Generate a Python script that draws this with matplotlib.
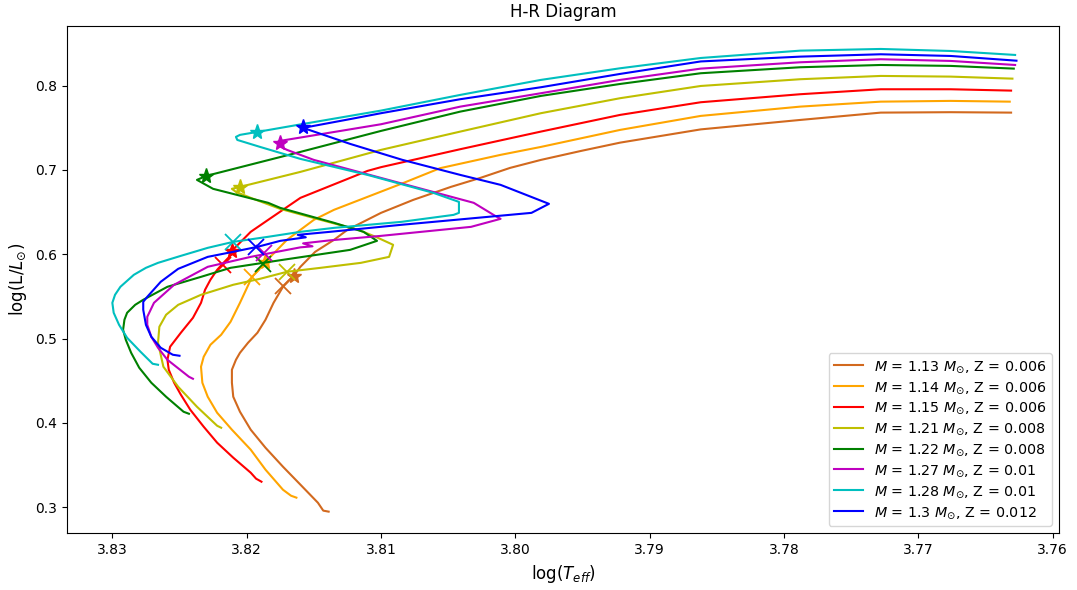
import matplotlib
matplotlib.use("Agg")
import matplotlib.pyplot as plt

# ---- data (log Teff, log L/Lsun) ----
masses = ["1.13", "1.14", "1.15", "1.21", "1.22", "1.27", "1.28", "1.3"]
metallicities = ["0.006", "0.006", "0.006", "0.008", "0.008", "0.01", "0.01", "0.012"]
colors = ["chocolate", "orange", "r", "y", "g", "m", "c", "b"]

teff_113 = [3.8139, 3.8143, 3.8147, 3.8160, 3.8173, 3.8186, 3.8197, 3.8205, 3.8210, 3.8211, 3.8211, 3.8208,
            3.8205, 3.8199, 3.8192, 3.8186, 3.8180, 3.8173, 3.8165, 3.8160, 3.8149, 3.8135, 3.8125, 3.8100,
            3.8076, 3.8048, 3.8026, 3.8004, 3.7981, 3.7951, 3.7922, 3.7862, 3.7788, 3.7728, 3.7676, 3.7631]
lum_113 = [0.2947, 0.2959, 0.3053, 0.3267, 0.3480, 0.3705, 0.3919, 0.4132, 0.4310, 0.4476, 0.4630, 0.4748,
           0.4831, 0.4950, 0.5069, 0.5223, 0.5424, 0.5614, 0.5744, 0.5851, 0.6029, 0.6171, 0.6290, 0.6491,
           0.6645, 0.6799, 0.6906, 0.7024, 0.7119, 0.7226, 0.7324, 0.7481, 0.7593, 0.7680, 0.7685, 0.7680]

teff_114 = [3.8163, 3.8167, 3.8173, 3.8186, 3.8197, 3.8211, 3.8222, 3.8229, 3.8233, 3.8234, 3.8232, 3.8227,
            3.8219, 3.8212, 3.8205, 3.8196, 3.8186, 3.8170, 3.8150, 3.8135, 3.8085, 3.8056, 3.8011, 3.7981,
            3.7922, 3.7862, 3.7788, 3.7728, 3.7676, 3.7632]
lum_114 = [0.3113, 0.3136, 0.3207, 0.3445, 0.3682, 0.3919, 0.4120, 0.4310, 0.4476, 0.4666, 0.4784, 0.4926,
           0.5045, 0.5199, 0.5424, 0.5732, 0.5910, 0.6171, 0.6408, 0.6527, 0.6835, 0.7021, 0.7179, 0.7273,
           0.7475, 0.7641, 0.7751, 0.7810, 0.7819, 0.7810]

teff_115 = [3.8189, 3.8193, 3.8197, 3.8210, 3.8222, 3.8232, 3.8242, 3.8249, 3.8254, 3.8258, 3.8259, 3.8257,
            3.8249, 3.8240, 3.8234, 3.8231, 3.8227, 3.8222, 3.8218, 3.8213, 3.8211, 3.8197, 3.8184, 3.8160,
            3.8110, 3.8100, 3.8041, 3.7981, 3.7922, 3.7862, 3.7788, 3.7728, 3.7676, 3.7631]
lum_115 = [0.3302, 0.3338, 0.3409, 0.3587, 0.3765, 0.3954, 0.4156, 0.4334, 0.4476, 0.4630, 0.4748, 0.4903,
           0.5069, 0.5246, 0.5424, 0.5578, 0.5697, 0.5815, 0.5886, 0.5969, 0.6041, 0.6266, 0.6408, 0.6669,
           0.6989, 0.7033, 0.7246, 0.7455, 0.7653, 0.7803, 0.7898, 0.7957, 0.7957, 0.7941]

teff_121 = [3.8219, 3.8222, 3.8237, 3.8251, 3.8262, 3.8266, 3.8265, 3.8260, 3.8251, 3.8234, 3.8210, 3.8190,
            3.8170, 3.8145, 3.8115, 3.8094, 3.8091, 3.8104, 3.8117, 3.8145, 3.8175, 3.8197, 3.8208, 3.8211,
            3.8205, 3.8160, 3.8100, 3.8041, 3.7981, 3.7922, 3.7862, 3.7788, 3.7728, 3.7676, 3.7630]
lum_121 = [0.3942, 0.3966, 0.4191, 0.4428, 0.4666, 0.4950, 0.5140, 0.5282, 0.5400, 0.5519, 0.5638, 0.5709,
           0.5792, 0.5839, 0.5898, 0.5969, 0.6112, 0.6207, 0.6290, 0.6408, 0.6538, 0.6669, 0.6740, 0.6776,
           0.6799, 0.6977, 0.7238, 0.7455, 0.7673, 0.7851, 0.7996, 0.8076, 0.8115, 0.8107, 0.8083]

teff_122 = [3.8243, 3.8247, 3.8260, 3.8271, 3.8280, 3.8286, 3.8290, 3.8292, 3.8291, 3.8289, 3.8283, 3.8277,
            3.8259, 3.8234, 3.8212, 3.8173, 3.8123, 3.8103, 3.8113, 3.8135, 3.8175, 3.8184, 3.8225, 3.8237,
            3.8230, 3.8160, 3.8100, 3.8041, 3.7981, 3.7922, 3.7862, 3.7788, 3.7728, 3.7676, 3.7629]
lum_122 = [0.4108, 0.4132, 0.4310, 0.4476, 0.4654, 0.4831, 0.4986, 0.5104, 0.5223, 0.5306, 0.5400, 0.5460,
           0.5614, 0.5732, 0.5839, 0.5934, 0.6052, 0.6159, 0.6266, 0.6373, 0.6550, 0.6610, 0.6776, 0.6882,
           0.6930, 0.7214, 0.7463, 0.7692, 0.7878, 0.8020, 0.8147, 0.8218, 0.8245, 0.8234, 0.8202]

teff_127 = [3.8240, 3.8243, 3.8259, 3.8266, 3.8271, 3.8274, 3.8274, 3.8269, 3.8254, 3.8229, 3.8197, 3.8160,
            3.8151, 3.8158, 3.8138, 3.8100, 3.8033, 3.8011, 3.8015, 3.8031, 3.8150, 3.8170, 3.8176, 3.8177,
            3.8175, 3.8100, 3.8041, 3.7981, 3.7922, 3.7862, 3.7788, 3.7728, 3.7676, 3.7628]
lum_127 = [0.4523, 0.4547, 0.4748, 0.4891, 0.5021, 0.5163, 0.5258, 0.5424, 0.5638, 0.5851, 0.5969, 0.6082,
           0.6094, 0.6129, 0.6165, 0.6218, 0.6325, 0.6420, 0.6455, 0.6610, 0.7119, 0.7238, 0.7285, 0.7333,
           0.7345, 0.7542, 0.7751, 0.7910, 0.8068, 0.8202, 0.8277, 0.8313, 0.8293, 0.8245]

teff_128 = [3.8266, 3.8270, 3.8279, 3.8289, 3.8295, 3.8299, 3.8300, 3.8298, 3.8294, 3.8284, 3.8275, 3.8266,
            3.8249, 3.8229, 3.8210, 3.8184, 3.8160, 3.8135, 3.8085, 3.8046, 3.8042, 3.8042, 3.8061, 3.8110,
            3.8160, 3.8190, 3.8207, 3.8208, 3.8205, 3.8192, 3.8160, 3.8100, 3.8041, 3.7981, 3.7922, 3.7862,
            3.7788, 3.7728, 3.7676, 3.7628]
lum_128 = [0.4689, 0.4701, 0.4843, 0.5009, 0.5163, 0.5306, 0.5424, 0.5519, 0.5614, 0.5756, 0.5839, 0.5898,
           0.5981, 0.6076, 0.6147, 0.6207, 0.6266, 0.6313, 0.6384, 0.6467, 0.6491, 0.6621, 0.6728, 0.6941,
           0.7131, 0.7273, 0.7356, 0.7392, 0.7416, 0.7451, 0.7540, 0.7704, 0.7890, 0.8068, 0.8206, 0.8328,
           0.8415, 0.8435, 0.8411, 0.8364]

teff_130 = [3.8250, 3.8255, 3.8264, 3.8271, 3.8275, 3.8277, 3.8277, 3.8274, 3.8264, 3.8251, 3.8229, 3.8210,
            3.8192, 3.8175, 3.8156, 3.8162, 3.8138, 3.8085, 3.7988, 3.7975, 3.8011, 3.8041, 3.8084, 3.8123,
            3.8158, 3.8121, 3.8100, 3.8041, 3.7981, 3.7922, 3.7862, 3.7788, 3.7728, 3.7676, 3.7627]
lum_130 = [0.4796, 0.4808, 0.4891, 0.5021, 0.5163, 0.5341, 0.5436, 0.5495, 0.5673, 0.5827, 0.5969, 0.6029,
           0.6088, 0.6159, 0.6201, 0.6230, 0.6266, 0.6349, 0.6491, 0.6598, 0.6823, 0.6941, 0.7119, 0.7309,
           0.7499, 0.7609, 0.7673, 0.7839, 0.7981, 0.8139, 0.8287, 0.8344, 0.8372, 0.8352, 0.8296]

# marked evolutionary points (star and cross) for each track
star_teff = [3.8165, 3.8186, 3.8211, 3.8205, 3.8230, 3.8175, 3.8192, 3.8158]
star_lum = [0.5744, 0.5910, 0.6041, 0.6799, 0.6930, 0.7321, 0.7451, 0.7510]
cross_teff = [3.8173, 3.8196, 3.8218, 3.8170, 3.8188, 3.8187, 3.8210, 3.8193]
cross_lum = [0.5626, 0.5732, 0.5875, 0.5792, 0.5886, 0.6017, 0.6147, 0.6088]

tracks_teff = [teff_113, teff_114, teff_115, teff_121, teff_122, teff_127, teff_128, teff_130]
tracks_lum = [lum_113, lum_114, lum_115, lum_121, lum_122, lum_127, lum_128, lum_130]

# ---- plot ----
fig = plt.figure(figsize=(10.77, 5.9), dpi=100)
ax = fig.add_axes([0.0619, 0.0958, 0.9218, 0.8608])

for i in range(len(masses)):
    label = r"$M$ = " + masses[i] + r" $M_{\odot}$, Z = " + metallicities[i]
    ax.plot(tracks_teff[i], tracks_lum[i], color=colors[i], lw=1.5, label=label)
    ax.plot(star_teff[i], star_lum[i], marker="*", color=colors[i], ms=11, ls="none")
    ax.plot(cross_teff[i], cross_lum[i], marker="x", color=colors[i], ms=11, mew=1.3, ls="none")

ax.set_xlim(3.8334, 3.7595)
ax.set_ylim(0.2688, 0.8712)
ax.set_title("H-R Diagram", fontsize=12)
ax.set_xlabel(r"log($T_{eff}$)", fontsize=12)
ax.set_ylabel(r"log(L/$L_{\odot}$)", fontsize=12)
ax.tick_params(labelsize=10)
ax.legend(loc="lower right", fontsize=10.3, labelspacing=0.36)

fig.savefig("out.png", dpi=100)
